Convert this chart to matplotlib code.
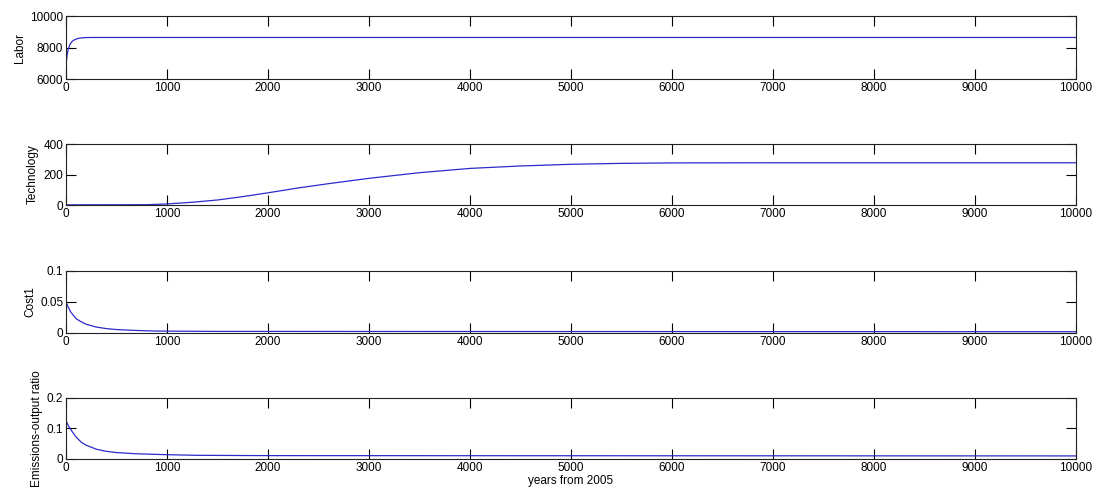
import matplotlib.pyplot as plt

plt.rcParams['font.family'] = ['Liberation Sans', 'DejaVu Sans']

# ================= DATA =================
labor_t = [0, 10, 20, 40, 60, 80, 100, 130, 160, 200, 300, 500, 1000, 10000]
labor_v = [6950, 7500, 7850, 8220, 8390, 8480, 8540, 8590, 8620, 8635, 8640, 8640, 8640, 8640]

tech_t = [0, 800, 1000, 1250, 1500, 1750, 2000, 2300, 2600, 3000, 3500, 4000,
          4500, 5000, 5500, 6000, 7000, 10000]
tech_v = [1, 2, 7, 18, 33, 55, 80, 112, 140, 175, 212, 240,
          256, 267, 273, 276, 277, 277]

cost_t = [0, 20, 50, 100, 150, 200, 300, 400, 500, 700, 900, 1500, 10000]
cost_v = [0.050, 0.042, 0.033, 0.023, 0.018, 0.014, 0.0095, 0.007, 0.0055,
          0.004, 0.003, 0.0025, 0.002]

emis_t = [0, 10, 30, 60, 100, 150, 200, 300, 400, 500, 700, 1000, 1300, 2000, 10000]
emis_v = [0.125, 0.118, 0.105, 0.090, 0.072, 0.055, 0.045, 0.032, 0.025,
          0.021, 0.017, 0.014, 0.012, 0.011, 0.010]

x_ticks = [0, 1000, 2000, 3000, 4000, 5000, 6000, 7000, 8000, 9000, 10000]

panels = [
    ("Labor", labor_t, labor_v, (6000, 10000), [6000, 8000, 10000], ["6000", "8000", "10000"]),
    ("Technology", tech_t, tech_v, (0, 400), [0, 200, 400], ["0", "200", "400"]),
    ("Cost1", cost_t, cost_v, (0, 0.1), [0, 0.05, 0.1], ["0", "0.05", "0.1"]),
    ("Emissions-output ratio", emis_t, emis_v, (0, 0.2), [0, 0.1, 0.2], ["0", "0.1", "0.2"]),
]

# axes boxes in figure fractions (left, bottom, width, height)
boxes = [
    (0.0602, 0.840, 0.9207, 0.1275),
    (0.0602, 0.585, 0.9207, 0.1235),
    (0.0602, 0.326, 0.9207, 0.1255),
    (0.0602, 0.0709, 0.9207, 0.1235),
]

# ================= PLOT =================
fig = plt.figure(figsize=(10.97, 4.94), dpi=100)

for (label, t, v, ylim, yt, ytl), box in zip(panels, boxes):
    ax = fig.add_axes(box)
    ax.plot(t, v, color='#2b2bc8', linewidth=0.9)
    ax.set_xlim(0, 10000)
    ax.set_ylim(*ylim)
    ax.set_xticks(x_ticks)
    ax.set_xticklabels([str(x) for x in x_ticks])
    ax.set_yticks(yt)
    ax.set_yticklabels(ytl)
    ax.tick_params(direction='in', top=True, right=True, length=7.5, width=0.8,
                   labelsize=8.5, pad=2)
    for s in ax.spines.values():
        s.set_linewidth(0.8)
        s.set_color('#222222')
    ax.set_ylabel(label, fontsize=8.5, labelpad=3)

ax.set_xlabel("years from 2005", fontsize=8.5, labelpad=1)

fig.savefig("out.png", dpi=100)
